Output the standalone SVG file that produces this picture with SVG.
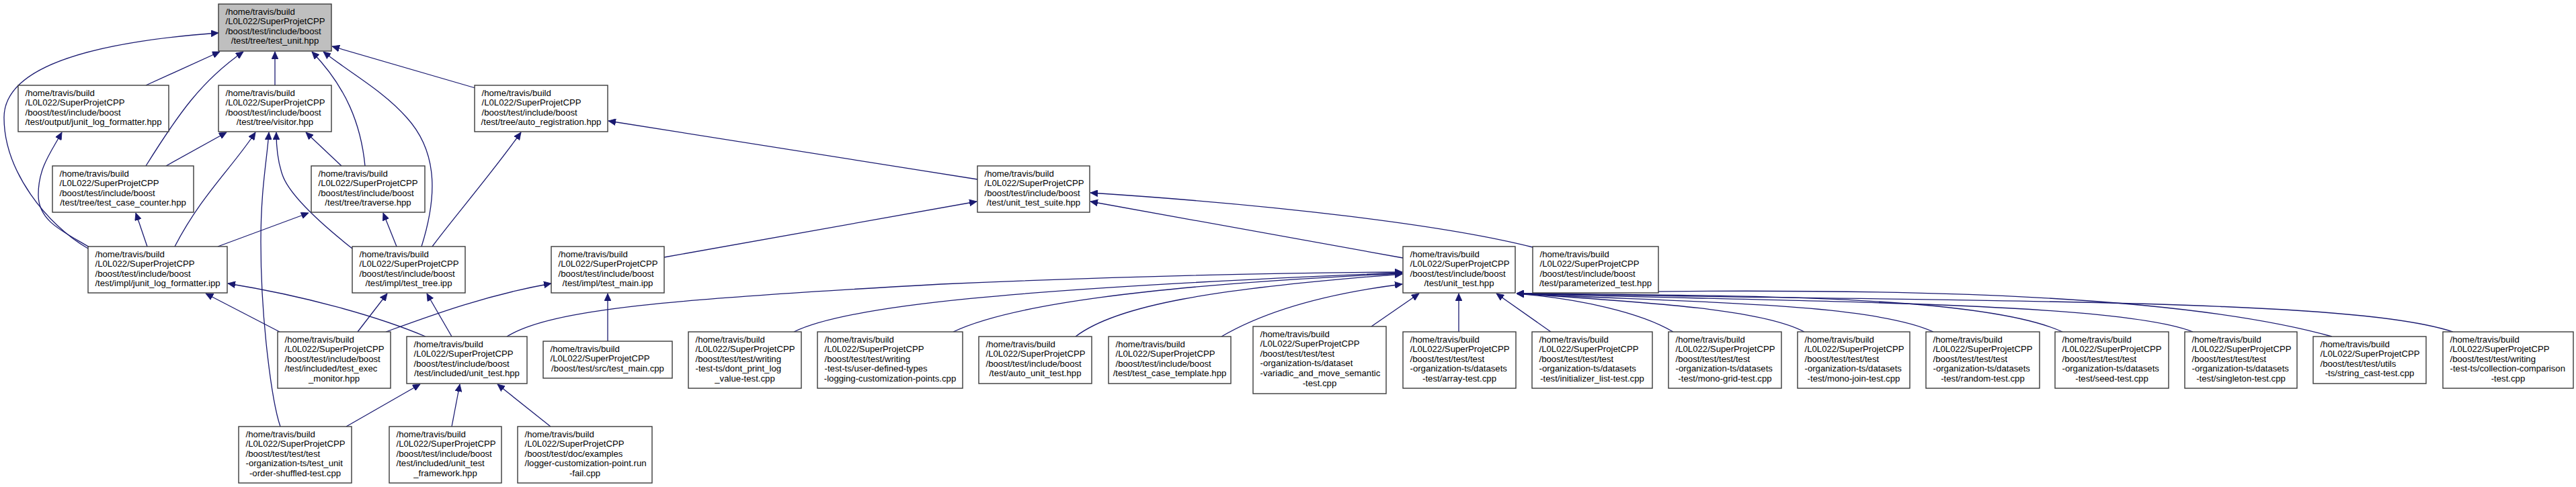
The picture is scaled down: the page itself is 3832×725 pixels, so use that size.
<svg xmlns="http://www.w3.org/2000/svg" width="3832" height="725" viewBox="0 0 3832 725">
<style>
.box{fill:#ffffff;stroke:#3a3a3a;stroke-width:1.4}
.hl{fill:#bfbfbf}
text{font-family:"Liberation Sans",Arial,Helvetica,sans-serif;font-size:13.2px;fill:#000000}
.c{text-anchor:middle}
.e{fill:none;stroke:#191970;stroke-width:1.3;marker-end:url(#ah)}
</style>
<defs>
<marker id="ah" markerUnits="userSpaceOnUse" markerWidth="12" markerHeight="10" refX="11" refY="5" orient="auto">
<path d="M0,0 L11,5 L0,10 z" fill="#191970" stroke="#191970" stroke-width="0.8"/>
</marker>
</defs>
<rect x="0" y="0" width="3832" height="725" fill="#ffffff"/>

<g id="connectors">
<path class="e" d="M131,370 C70,335 6,255 6,175 C6,95 150,62 325,49"/>
<path class="e" d="M133,368 C95,345 57,330 57,290 C57,250 75,228 92,197"/>
<path class="e" d="M217,127 L327,77"/>
<path class="e" d="M217,247 C265,170 300,120 362,77"/>
<path class="e" d="M409,127 L409,77"/>
<path class="e" d="M543,247 C537,185 515,130 464,77"/>
<path class="e" d="M627,367 C648,300 655,230 605,175 C570,135 520,108 481,77"/>
<path class="e" d="M707,131 L494,69"/>
<path class="e" d="M247,247 L337,197"/>
<path class="e" d="M260,367 C300,290 345,250 380,197"/>
<path class="e" d="M417,635 C405,600 388,480 388,360 C388,280 397,240 400,197"/>
<path class="e" d="M524,370 C480,335 430,290 420,260 C413,240 411,220 411,197"/>
<path class="e" d="M508,247 L455,197"/>
<path class="e" d="M324,367 L459,317"/>
<path class="e" d="M590,367 L570,317"/>
<path class="e" d="M219,367 L202,317"/>
<path class="e" d="M643,367 C670,330 730,260 775,197"/>
<path class="e" d="M1454,267 L905,180"/>
<path class="e" d="M988,383 L1453,300"/>
<path class="e" d="M2087,384 L1622,300"/>
<path class="e" d="M2280,368 C2150,335 1900,305 1622,287"/>
<path class="e" d="M416,494 L306,437"/>
<path class="e" d="M633,501 C560,470 450,440 339,422"/>
<path class="e" d="M532,494 L576,437"/>
<path class="e" d="M672,501 L635,437"/>
<path class="e" d="M574,494 C640,470 720,440 820,422"/>
<path class="e" d="M904,508 L904,437"/>
<path class="e" d="M515,635 L625,572"/>
<path class="e" d="M672,635 L684,572"/>
<path class="e" d="M819,635 L740,572"/>
<path class="e" d="M754,501 C820,460 1000,445 1400,423 C1700,410 1900,406 2086,405"/>
<path class="e" d="M1181,494 C1260,455 1500,430 2086,406"/>
<path class="e" d="M1418,494 C1500,455 1700,425 2086,407"/>
<path class="e" d="M1600,501 C1660,455 1800,430 2086,408"/>
<path class="e" d="M1817,501 C1870,470 1950,440 2086,423"/>
<path class="e" d="M2040,486 L2111,437"/>
<path class="e" d="M2170,494 L2170,437"/>
<path class="e" d="M2307,494 L2226,437"/>
<path class="e" d="M2489,494 C2440,465 2350,445 2256,437"/>
<path class="e" d="M2684,494 C2620,460 2450,450 2256,437"/>
<path class="e" d="M2876,494 C2780,450 2500,450 2256,437"/>
<path class="e" d="M3068,494 C2950,440 2600,440 2256,437"/>
<path class="e" d="M3262,494 C3150,450 2700,450 2256,437"/>
<path class="e" d="M3469,501 C3250,440 2850,425 2256,437"/>
<path class="e" d="M3649,494 C3500,445 3000,450 2256,437"/>
</g>

<g id="n1"><rect class="box hl" x="325" y="6" width="168" height="70"/>
<text><tspan x="335.5" y="21.6">/home/travis/build</tspan><tspan x="335.5" y="36.2">/L0L022/SuperProjetCPP</tspan><tspan x="335.5" y="50.8">/boost/test/include/boost</tspan><tspan class="c" x="409" y="65.4">/test/tree/test_unit.hpp</tspan></text></g>

<g id="n2"><rect class="box" x="27" y="127" width="224" height="69"/>
<text><tspan x="37.5" y="142.6">/home/travis/build</tspan><tspan x="37.5" y="157.2">/L0L022/SuperProjetCPP</tspan><tspan x="37.5" y="171.8">/boost/test/include/boost</tspan><tspan class="c" x="139" y="186.4">/test/output/junit_log_formatter.hpp</tspan></text></g>

<g id="n3"><rect class="box" x="325" y="127" width="168" height="69"/>
<text><tspan x="335.5" y="142.6">/home/travis/build</tspan><tspan x="335.5" y="157.2">/L0L022/SuperProjetCPP</tspan><tspan x="335.5" y="171.8">/boost/test/include/boost</tspan><tspan class="c" x="409" y="186.4">/test/tree/visitor.hpp</tspan></text></g>

<g id="n4"><rect class="box" x="706" y="127" width="198" height="69"/>
<text><tspan x="716.5" y="142.6">/home/travis/build</tspan><tspan x="716.5" y="157.2">/L0L022/SuperProjetCPP</tspan><tspan x="716.5" y="171.8">/boost/test/include/boost</tspan><tspan class="c" x="805" y="186.4">/test/tree/auto_registration.hpp</tspan></text></g>

<g id="n5"><rect class="box" x="78" y="247" width="210" height="69"/>
<text><tspan x="88.5" y="262.6">/home/travis/build</tspan><tspan x="88.5" y="277.2">/L0L022/SuperProjetCPP</tspan><tspan x="88.5" y="291.8">/boost/test/include/boost</tspan><tspan class="c" x="183" y="306.4">/test/tree/test_case_counter.hpp</tspan></text></g>

<g id="n6"><rect class="box" x="463" y="247" width="169" height="69"/>
<text><tspan x="473.5" y="262.6">/home/travis/build</tspan><tspan x="473.5" y="277.2">/L0L022/SuperProjetCPP</tspan><tspan x="473.5" y="291.8">/boost/test/include/boost</tspan><tspan class="c" x="547.5" y="306.4">/test/tree/traverse.hpp</tspan></text></g>

<g id="n7"><rect class="box" x="1454" y="247" width="167" height="69"/>
<text><tspan x="1464.5" y="262.6">/home/travis/build</tspan><tspan x="1464.5" y="277.2">/L0L022/SuperProjetCPP</tspan><tspan x="1464.5" y="291.8">/boost/test/include/boost</tspan><tspan class="c" x="1537.5" y="306.4">/test/unit_test_suite.hpp</tspan></text></g>

<g id="n8"><rect class="box" x="131" y="367" width="207" height="69"/>
<text><tspan x="141.5" y="382.6">/home/travis/build</tspan><tspan x="141.5" y="397.2">/L0L022/SuperProjetCPP</tspan><tspan x="141.5" y="411.8">/boost/test/include/boost</tspan><tspan class="c" x="234.5" y="426.4">/test/impl/junit_log_formatter.ipp</tspan></text></g>

<g id="n9"><rect class="box" x="524" y="367" width="168" height="69"/>
<text><tspan x="534.5" y="382.6">/home/travis/build</tspan><tspan x="534.5" y="397.2">/L0L022/SuperProjetCPP</tspan><tspan x="534.5" y="411.8">/boost/test/include/boost</tspan><tspan class="c" x="608" y="426.4">/test/impl/test_tree.ipp</tspan></text></g>

<g id="n10"><rect class="box" x="820" y="367" width="168" height="69"/>
<text><tspan x="830.5" y="382.6">/home/travis/build</tspan><tspan x="830.5" y="397.2">/L0L022/SuperProjetCPP</tspan><tspan x="830.5" y="411.8">/boost/test/include/boost</tspan><tspan class="c" x="904" y="426.4">/test/impl/test_main.ipp</tspan></text></g>

<g id="n11"><rect class="box" x="2087" y="367" width="167" height="69"/>
<text><tspan x="2097.5" y="382.6">/home/travis/build</tspan><tspan x="2097.5" y="397.2">/L0L022/SuperProjetCPP</tspan><tspan x="2097.5" y="411.8">/boost/test/include/boost</tspan><tspan class="c" x="2170.5" y="426.4">/test/unit_test.hpp</tspan></text></g>

<g id="n12"><rect class="box" x="2280" y="367" width="187" height="69"/>
<text><tspan x="2290.5" y="382.6">/home/travis/build</tspan><tspan x="2290.5" y="397.2">/L0L022/SuperProjetCPP</tspan><tspan x="2290.5" y="411.8">/boost/test/include/boost</tspan><tspan class="c" x="2373.5" y="426.4">/test/parameterized_test.hpp</tspan></text></g>

<g id="n13"><rect class="box" x="413" y="494" width="168" height="84"/>
<text><tspan x="423.5" y="509.6">/home/travis/build</tspan><tspan x="423.5" y="524.2">/L0L022/SuperProjetCPP</tspan><tspan x="423.5" y="538.8">/boost/test/include/boost</tspan><tspan x="423.5" y="553.4">/test/included/test_exec</tspan><tspan class="c" x="497" y="568">_monitor.hpp</tspan></text></g>

<g id="n14"><rect class="box" x="605" y="501" width="179" height="70"/>
<text><tspan x="615.5" y="516.6">/home/travis/build</tspan><tspan x="615.5" y="531.2">/L0L022/SuperProjetCPP</tspan><tspan x="615.5" y="545.8">/boost/test/include/boost</tspan><tspan class="c" x="694.5" y="560.4">/test/included/unit_test.hpp</tspan></text></g>

<g id="n15"><rect class="box" x="808" y="508" width="192" height="55"/>
<text><tspan x="818.5" y="523.6">/home/travis/build</tspan><tspan x="818.5" y="538.2">/L0L022/SuperProjetCPP</tspan><tspan class="c" x="904" y="552.8">/boost/test/src/test_main.cpp</tspan></text></g>

<g id="n16"><rect class="box" x="1024" y="494" width="168" height="84"/>
<text><tspan x="1034.5" y="509.6">/home/travis/build</tspan><tspan x="1034.5" y="524.2">/L0L022/SuperProjetCPP</tspan><tspan x="1034.5" y="538.8">/boost/test/test/writing</tspan><tspan x="1034.5" y="553.4">-test-ts/dont_print_log</tspan><tspan class="c" x="1108" y="568">_value-test.cpp</tspan></text></g>

<g id="n17"><rect class="box" x="1216" y="494" width="216" height="84"/>
<text><tspan x="1226.5" y="509.6">/home/travis/build</tspan><tspan x="1226.5" y="524.2">/L0L022/SuperProjetCPP</tspan><tspan x="1226.5" y="538.8">/boost/test/test/writing</tspan><tspan x="1226.5" y="553.4">-test-ts/user-defined-types</tspan><tspan class="c" x="1324" y="568">-logging-customization-points.cpp</tspan></text></g>

<g id="n18"><rect class="box" x="1456" y="501" width="168" height="70"/>
<text><tspan x="1466.5" y="516.6">/home/travis/build</tspan><tspan x="1466.5" y="531.2">/L0L022/SuperProjetCPP</tspan><tspan x="1466.5" y="545.8">/boost/test/include/boost</tspan><tspan class="c" x="1540" y="560.4">/test/auto_unit_test.hpp</tspan></text></g>

<g id="n19"><rect class="box" x="1649" y="501" width="182" height="70"/>
<text><tspan x="1659.5" y="516.6">/home/travis/build</tspan><tspan x="1659.5" y="531.2">/L0L022/SuperProjetCPP</tspan><tspan x="1659.5" y="545.8">/boost/test/include/boost</tspan><tspan class="c" x="1740" y="560.4">/test/test_case_template.hpp</tspan></text></g>

<g id="n20"><rect class="box" x="1864" y="486" width="198" height="100"/>
<text><tspan x="1874.5" y="501.6">/home/travis/build</tspan><tspan x="1874.5" y="516.2">/L0L022/SuperProjetCPP</tspan><tspan x="1874.5" y="530.8">/boost/test/test/test</tspan><tspan x="1874.5" y="545.4">-organization-ts/dataset</tspan><tspan x="1874.5" y="560">-variadic_and_move_semantic</tspan><tspan class="c" x="1963" y="574.6">-test.cpp</tspan></text></g>

<g id="n21"><rect class="box" x="2087" y="494" width="168" height="84"/>
<text><tspan x="2097.5" y="509.6">/home/travis/build</tspan><tspan x="2097.5" y="524.2">/L0L022/SuperProjetCPP</tspan><tspan x="2097.5" y="538.8">/boost/test/test/test</tspan><tspan x="2097.5" y="553.4">-organization-ts/datasets</tspan><tspan class="c" x="2171" y="568">-test/array-test.cpp</tspan></text></g>

<g id="n22"><rect class="box" x="2279" y="494" width="179" height="84"/>
<text><tspan x="2289.5" y="509.6">/home/travis/build</tspan><tspan x="2289.5" y="524.2">/L0L022/SuperProjetCPP</tspan><tspan x="2289.5" y="538.8">/boost/test/test/test</tspan><tspan x="2289.5" y="553.4">-organization-ts/datasets</tspan><tspan class="c" x="2368.5" y="568">-test/initializer_list-test.cpp</tspan></text></g>

<g id="n23"><rect class="box" x="2482" y="494" width="168" height="84"/>
<text><tspan x="2492.5" y="509.6">/home/travis/build</tspan><tspan x="2492.5" y="524.2">/L0L022/SuperProjetCPP</tspan><tspan x="2492.5" y="538.8">/boost/test/test/test</tspan><tspan x="2492.5" y="553.4">-organization-ts/datasets</tspan><tspan class="c" x="2566" y="568">-test/mono-grid-test.cpp</tspan></text></g>

<g id="n24"><rect class="box" x="2674" y="494" width="167" height="84"/>
<text><tspan x="2684.5" y="509.6">/home/travis/build</tspan><tspan x="2684.5" y="524.2">/L0L022/SuperProjetCPP</tspan><tspan x="2684.5" y="538.8">/boost/test/test/test</tspan><tspan x="2684.5" y="553.4">-organization-ts/datasets</tspan><tspan class="c" x="2757.5" y="568">-test/mono-join-test.cpp</tspan></text></g>

<g id="n25"><rect class="box" x="2865" y="494" width="169" height="84"/>
<text><tspan x="2875.5" y="509.6">/home/travis/build</tspan><tspan x="2875.5" y="524.2">/L0L022/SuperProjetCPP</tspan><tspan x="2875.5" y="538.8">/boost/test/test/test</tspan><tspan x="2875.5" y="553.4">-organization-ts/datasets</tspan><tspan class="c" x="2949.5" y="568">-test/random-test.cpp</tspan></text></g>

<g id="n26"><rect class="box" x="3057" y="494" width="169" height="84"/>
<text><tspan x="3067.5" y="509.6">/home/travis/build</tspan><tspan x="3067.5" y="524.2">/L0L022/SuperProjetCPP</tspan><tspan x="3067.5" y="538.8">/boost/test/test/test</tspan><tspan x="3067.5" y="553.4">-organization-ts/datasets</tspan><tspan class="c" x="3141.5" y="568">-test/seed-test.cpp</tspan></text></g>

<g id="n27"><rect class="box" x="3250" y="494" width="167" height="84"/>
<text><tspan x="3260.5" y="509.6">/home/travis/build</tspan><tspan x="3260.5" y="524.2">/L0L022/SuperProjetCPP</tspan><tspan x="3260.5" y="538.8">/boost/test/test/test</tspan><tspan x="3260.5" y="553.4">-organization-ts/datasets</tspan><tspan class="c" x="3333.5" y="568">-test/singleton-test.cpp</tspan></text></g>

<g id="n28"><rect class="box" x="3441" y="501" width="168" height="70"/>
<text><tspan x="3451.5" y="516.6">/home/travis/build</tspan><tspan x="3451.5" y="531.2">/L0L022/SuperProjetCPP</tspan><tspan x="3451.5" y="545.8">/boost/test/test/utils</tspan><tspan class="c" x="3525" y="560.4">-ts/string_cast-test.cpp</tspan></text></g>

<g id="n29"><rect class="box" x="3634" y="494" width="194" height="84"/>
<text><tspan x="3644.5" y="509.6">/home/travis/build</tspan><tspan x="3644.5" y="524.2">/L0L022/SuperProjetCPP</tspan><tspan x="3644.5" y="538.8">/boost/test/test/writing</tspan><tspan x="3644.5" y="553.4">-test-ts/collection-comparison</tspan><tspan class="c" x="3731" y="568">-test.cpp</tspan></text></g>

<g id="n30"><rect class="box" x="355" y="635" width="168" height="84"/>
<text><tspan x="365.5" y="650.6">/home/travis/build</tspan><tspan x="365.5" y="665.2">/L0L022/SuperProjetCPP</tspan><tspan x="365.5" y="679.8">/boost/test/test/test</tspan><tspan x="365.5" y="694.4">-organization-ts/test_unit</tspan><tspan class="c" x="439" y="709">-order-shuffled-test.cpp</tspan></text></g>

<g id="n31"><rect class="box" x="579" y="635" width="167" height="84"/>
<text><tspan x="589.5" y="650.6">/home/travis/build</tspan><tspan x="589.5" y="665.2">/L0L022/SuperProjetCPP</tspan><tspan x="589.5" y="679.8">/boost/test/include/boost</tspan><tspan x="589.5" y="694.4">/test/included/unit_test</tspan><tspan class="c" x="662.5" y="709">_framework.hpp</tspan></text></g>

<g id="n32"><rect class="box" x="770" y="635" width="200" height="84"/>
<text><tspan x="780.5" y="650.6">/home/travis/build</tspan><tspan x="780.5" y="665.2">/L0L022/SuperProjetCPP</tspan><tspan x="780.5" y="679.8">/boost/test/doc/examples</tspan><tspan x="780.5" y="694.4">/logger-customization-point.run</tspan><tspan class="c" x="870" y="709">-fail.cpp</tspan></text></g>
</svg>
